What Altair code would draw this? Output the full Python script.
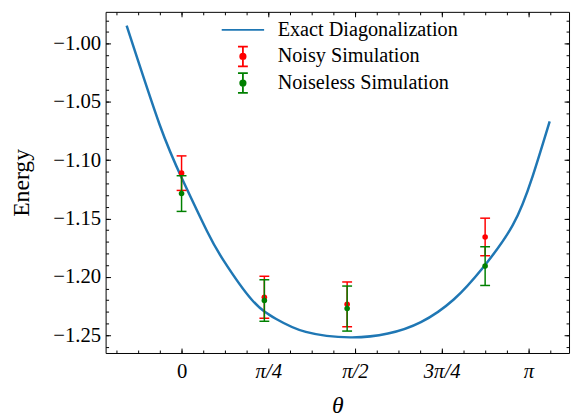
import json
import math
import altair as alt
import pandas as pd

# ---- data ----
theta_curve = [-0.4975, -0.1992, 0.0089, 0.2322, 0.3814, 0.6342, 0.8575, 1.1255,
               1.5275, 1.8696, 2.168, 2.4654, 2.7334, 3.0013, 3.18, 3.3346]
energy_curve = [-0.9847, -1.0694, -1.1167, -1.1611, -1.1861, -1.2194, -1.2361, -1.2472,
                -1.2519, -1.2486, -1.2388, -1.2194, -1.1917, -1.1555, -1.1138, -1.0667]

theta_pts = [0.0, 0.75, 1.5, 2.75]
noisy_E = [-1.1111, -1.2175, -1.2236, -1.1658]
noisy_err = [0.0148, 0.0180, 0.0192, 0.0161]
noiseless_E = [-1.1286, -1.2203, -1.2272, -1.1908]
noiseless_err = [0.0153, 0.0178, 0.0193, 0.0166]

series_names = ["Exact Diagonalization", "Noisy Simulation", "Noiseless Simulation"]
series_colors = ["#1f77b4", "#ff0000", "#008000"]

x_major = [0, math.pi / 4, math.pi / 2, 3 * math.pi / 4, math.pi]
x_labels = ["0", "π/4", "π/2", "3π/4", "π"]
x_minor = [k * math.pi / 16 for k in range(-3, 18)]
y_major = [-1.25, -1.20, -1.15, -1.10, -1.05, -1.00]
y_minor = [round(-1.26 + 0.01 * k, 2) for k in range(0, 29)]

x_domain = [-0.688, 3.510]
y_domain = [-1.2653, -0.9728]

FONT = "Liberation Serif"

curve_df = pd.DataFrame({"theta": theta_curve, "energy": energy_curve})
xs = alt.Scale(domain=x_domain, nice=False, zero=False)
ys = alt.Scale(domain=y_domain, nice=False, zero=False)


def tick_layer(xorient, yorient, xvals, yvals, size):
    return alt.Chart(curve_df).transform_filter("false").mark_point(opacity=0).encode(
        x=alt.X("theta:Q", scale=xs, axis=alt.Axis(
            orient=xorient, values=xvals, labels=False, domain=False, grid=False,
            ticks=True, tickSize=size, offset=-size, title=None,
            tickColor="black", tickWidth=1)),
        y=alt.Y("energy:Q", scale=ys, axis=alt.Axis(
            orient=yorient, values=yvals, labels=False, domain=False, grid=False,
            ticks=True, tickSize=size, offset=-size, title=None,
            tickColor="black", tickWidth=1)),
    )


label_expr = json.dumps(x_labels) + "[round(datum.value / (PI / 4))]"

line = alt.Chart(curve_df).mark_line(color="#1f77b4", strokeWidth=2.5, interpolate="natural").encode(
    x=alt.X("theta:Q", scale=xs, axis=alt.Axis(
        orient="bottom", values=x_major, labelExpr=label_expr, ticks=False, tickSize=0,
        domain=False, grid=False, labelFont=FONT, labelFontSize=21, labelColor="black",
        labelPadding=8, labelFontStyle={"condition": {"test": "datum.value == 0", "value": "normal"}, "value": "italic"},
        title="θ", titleFont=FONT, titleFontSize=24, titleFontWeight="normal",
        titleFontStyle="italic", titleColor="black", titlePadding=12)),
    y=alt.Y("energy:Q", scale=ys, axis=alt.Axis(
        orient="left", values=y_major, format=".2f", ticks=False, tickSize=0,
        domain=False, grid=False, labelFont=FONT, labelFontSize=21, labelColor="black",
        labelPadding=5, title="Energy", titleFont=FONT, titleFontSize=24,
        titleFontWeight="normal", titleColor="black", titlePadding=20)),
)


def err_layers(E, err, color):
    df = pd.DataFrame({
        "theta": theta_pts,
        "E": E,
        "lo": [e - d for e, d in zip(E, err)],
        "hi": [e + d for e, d in zip(E, err)],
    })
    base = alt.Chart(df)
    xx = alt.X("theta:Q", scale=xs, axis=None)
    rule = base.mark_rule(color=color, strokeWidth=1.5).encode(
        x=xx, y=alt.Y("lo:Q", scale=ys, axis=None), y2="hi:Q")
    cap_lo = base.mark_tick(color=color, orient="horizontal", size=10, thickness=1.5, opacity=1).encode(
        x=xx, y=alt.Y("lo:Q", scale=ys, axis=None))
    cap_hi = base.mark_tick(color=color, orient="horizontal", size=10, thickness=1.5, opacity=1).encode(
        x=xx, y=alt.Y("hi:Q", scale=ys, axis=None))
    pt = base.mark_point(filled=True, color=color, size=32, opacity=1).encode(
        x=xx, y=alt.Y("E:Q", scale=ys, axis=None))
    return [rule, cap_lo, cap_hi, pt]


line_path = "M-4.3,0H4.3M0,-2L0,-2M0,2L0,2"
err_path = "M-1,-2H1M0,-2V2M-1,2H1M0.55,0A0.55,0.55,0,1,1,-0.55,0A0.55,0.55,0,1,1,0.55,0Z"
paths = [line_path, err_path, err_path]

leg = alt.Legend(title=None, orient="none", legendX=129, legendY=8, labelFont=FONT,
                 labelFontSize=20.5, labelColor="black", labelLimit=0, symbolSize=100,
                 symbolStrokeWidth=1.8, labelOffset=25, rowPadding=-1, padding=0,
                 symbolOpacity=1)

legend_layer = alt.Chart(curve_df).transform_filter("false").mark_point(filled=True, opacity=1).encode(
    fill=alt.Fill("series:N", scale=alt.Scale(domain=series_names, range=series_colors), legend=leg),
    stroke=alt.Stroke("series:N", scale=alt.Scale(domain=series_names, range=series_colors), legend=leg),
    shape=alt.Shape("series:N", scale=alt.Scale(domain=series_names, range=paths), legend=leg),
)

layers = [
    tick_layer("bottom", "left", x_major, y_major, 5),
    tick_layer("bottom", "left", x_minor, y_minor, 3),
    tick_layer("top", "right", x_major, y_major, 5),
    tick_layer("top", "right", x_minor, y_minor, 3),
    line,
] + err_layers(noisy_E, noisy_err, "#ff0000") + err_layers(noiseless_E, noiseless_err, "#008000") + [legend_layer]

chart = alt.layer(*layers).resolve_axis(x="independent", y="independent").properties(
    width=470, height=346,
    autosize=alt.AutoSizeParams(type="none"),
    padding={"left": 99, "top": 1, "right": 2, "bottom": 62},
).configure_view(stroke="black", strokeWidth=1)

chart.save("out.html", embed_options={"renderer": "svg", "actions": False})
